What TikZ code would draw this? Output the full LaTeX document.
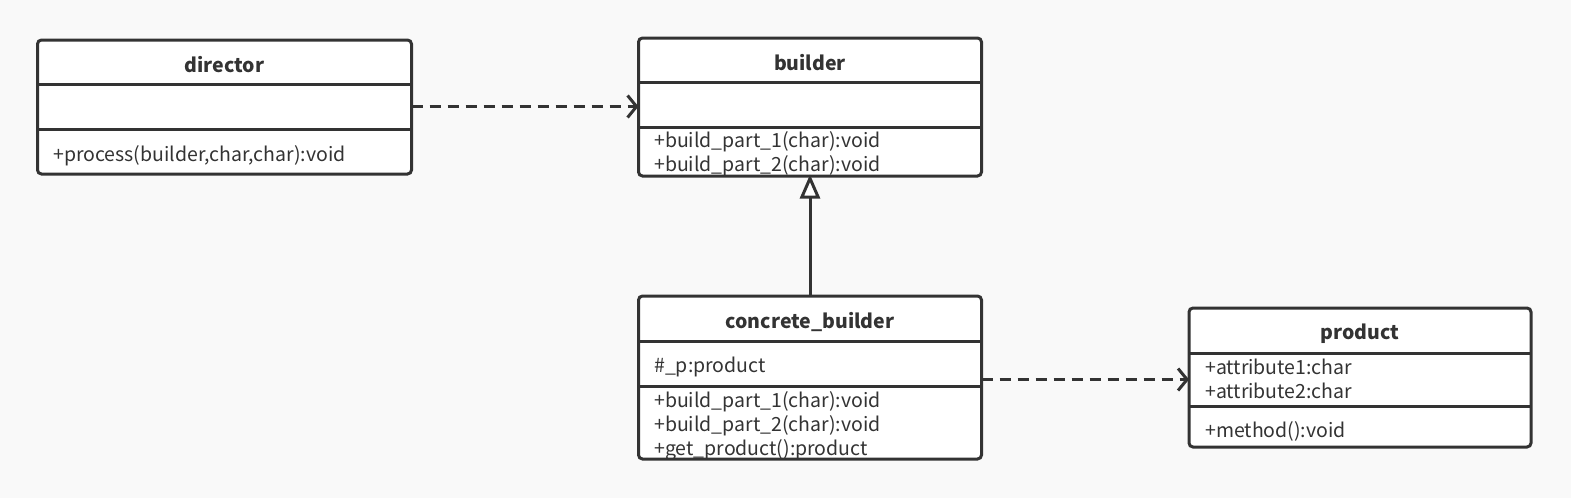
\documentclass[tikz,border=0pt]{standalone}
\usepackage{fontspec}
\setmainfont{Noto Sans CJK SC}
\usetikzlibrary{arrows.meta}
\definecolor{bg}{HTML}{F9F9F9}
\definecolor{ink}{HTML}{333333}
\tikzset{
  comp/.style={inner sep=0pt, outer sep=0pt, draw=none},
  outline/.style={draw=ink, line width=3pt, rounded corners=4pt, fill=white},
  divider/.style={draw=ink, line width=3pt},
  title/.style={font=\fontsize{19.5}{22}\selectfont\bfseries, text=ink, inner sep=0pt},
  member/.style={font=\fontsize{19.5}{22}\selectfont, text=ink, inner sep=0pt, anchor=mid west},
  dep/.style={draw=ink, line width=3pt, dash pattern=on 11pt off 7pt, -{Straight Barb[length=9pt,width=22pt,line width=3pt]}},
  inherit/.style={draw=ink, line width=3pt, -{Triangle[open,length=24pt,width=20pt,line width=3pt,fill=white]}},
}
\begin{document}
\begin{tikzpicture}[x=1pt,y=-1pt]
\fill[bg] (0,0) rectangle (1571,498);
\useasboundingbox (0,0) rectangle (1571,498);

% ---------- director ----------
\node[comp, minimum width=374pt, minimum height=44pt] (dirT) at (224.5,62) {};
\node[comp, minimum width=374pt, minimum height=45pt] (dirA) at (224.5,106.5) {};
\node[comp, minimum width=374pt, minimum height=45pt] (dirM) at (224.5,151.5) {};
\draw[outline] (dirT.north west) rectangle (dirM.south east);
\draw[divider] (dirT.south west) -- (dirT.south east);
\draw[divider] (dirA.south west) -- (dirA.south east);
\node[title] (dirTt) at (224.5,64.5) {director};
\node[member] (dirM1) at (53,159) {+process(builder,char,char):void};

% ---------- builder ----------
\node[comp, minimum width=343pt, minimum height=44pt] (bT) at (810,60) {};
\node[comp, minimum width=343pt, minimum height=45pt] (bA) at (810,104.5) {};
\node[comp, minimum width=343pt, minimum height=49pt] (bM) at (810,151.5) {};
\draw[outline] (bT.north west) rectangle (bM.south east);
\draw[divider] (bT.south west) -- (bT.south east);
\draw[divider] (bA.south west) -- (bA.south east);
\node[title] (bTt) at (810,62.5) {builder};
\node[member] (bM1) at (654,145) {+build\_part\_1(char):void};
\node[member] (bM2) at (654,169) {+build\_part\_2(char):void};

% ---------- concrete_builder ----------
\node[comp, minimum width=343pt, minimum height=45pt] (cT) at (810,318.5) {};
\node[comp, minimum width=343pt, minimum height=45pt] (cA) at (810,363.5) {};
\node[comp, minimum width=343pt, minimum height=73pt] (cM) at (810,422.5) {};
\draw[outline] (cT.north west) rectangle (cM.south east);
\draw[divider] (cT.south west) -- (cT.south east);
\draw[divider] (cA.south west) -- (cA.south east);
\node[title] (cTt) at (810,321.5) {concrete\_builder};
\node[member] (cA1) at (654,370) {\#\_p:product};
\node[member] (cM1) at (654,405) {+build\_part\_1(char):void};
\node[member] (cM2) at (654,429) {+build\_part\_2(char):void};
\node[member] (cM3) at (654,453) {+get\_product():product};

% ---------- product ----------
\node[comp, minimum width=342pt, minimum height=45pt] (pT) at (1360,330.5) {};
\node[comp, minimum width=342pt, minimum height=53pt] (pA) at (1360,379.5) {};
\node[comp, minimum width=342pt, minimum height=41pt] (pM) at (1360,426.5) {};
\draw[outline] (pT.north west) rectangle (pM.south east);
\draw[divider] (pT.south west) -- (pT.south east);
\draw[divider] (pA.south west) -- (pA.south east);
\node[title] (pTt) at (1360,333.5) {product};
\node[member] (pA1) at (1205,372) {+attribute1:char};
\node[member] (pA2) at (1205,396) {+attribute2:char};
\node[member] (pM1) at (1205,435) {+method():void};

% ---------- connectors ----------
\draw[dep] (dirA.east) -- (dirA.east -| bA.west);
\draw[dep] (pA.west -| cA.east) -- (pA.west);
\draw[inherit] (cT.north) -- ([yshift=1.5pt]bM.south);
\end{tikzpicture}
\end{document}
